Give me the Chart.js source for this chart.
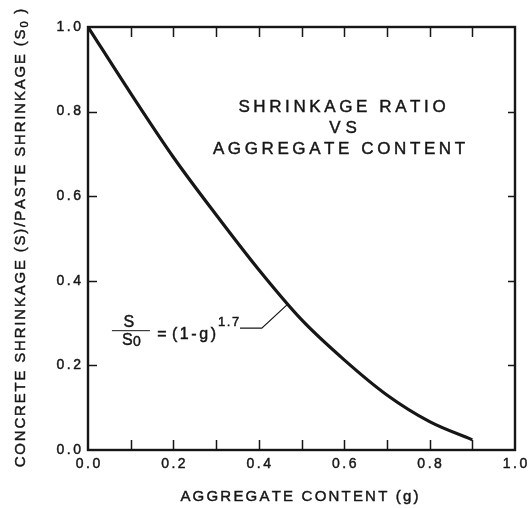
<!DOCTYPE html>
<html><head><meta charset="utf-8">
<script src="https://cdn.jsdelivr.net/npm/chart.js@4"></script>
<style>html,body{margin:0;padding:0;background:#fff}#wrap{width:528px;height:508px}</style>
</head><body><div id="wrap"><canvas id="c" width="528" height="508"></canvas></div>
<script>
// ---- data ----
const aggregateContent = [0.0, 0.1, 0.2, 0.3, 0.4, 0.5, 0.6, 0.7, 0.8, 0.9];
const shrinkageRatio   = [1.0, 0.843, 0.692, 0.556, 0.426, 0.308, 0.213, 0.13, 0.067, 0.024];
const xTickValues = [0.0, 0.2, 0.4, 0.6, 0.8, 1.0];
const xTickLabels = ['0.0', '0.2', '0.4', '0.6', '0.8', '1.0'];
const yTickValues = [0.0, 0.2, 0.4, 0.6, 0.8, 1.0];
const yTickLabels = ['0.0', '0.2', '0.4', '0.6', '0.8', '1.0'];
const xMinorTicks = [0.1, 0.2, 0.3, 0.4, 0.5, 0.6, 0.7, 0.8, 0.9];
const yMinorTicks = [0.2, 0.4, 0.6, 0.8];
const titleLines = ['SHRINKAGE RATIO', 'VS', 'AGGREGATE CONTENT'];
const xAxisTitle = 'AGGREGATE CONTENT (g)';
const yAxisTitle = [['CONCRETE SHRINKAGE (S)/PASTE SHRINKAGE (S', 0], ['0', 1], [' )', 0]];
const formulaNum = 'S', formulaDen = 'S', formulaDenSub = '0', formulaEq = '=', formulaRhs = '(1-g)', formulaExp = '1.7';
const leaderPoint = [0.466, 0.343];   // where the leader line meets the curve (data space)
const leaderElbow = [0.407, 0.288];
const leaderStart = [0.356, 0.288];
const formulaAnchor = [0.056, 0.288]; // left end of fraction bar (data space)

const FONT = '"Liberation Sans", Arial, Helvetica, sans-serif';
const INK = '#161616';

function spaced(ctx, str, x, y, align, sp) {
  const chars = [...str];
  const w = chars.map(c => ctx.measureText(c).width);
  const total = w.reduce((a, b) => a + b, 0) + sp * (chars.length - 1);
  let sx = align === 'center' ? x - total / 2 : align === 'right' ? x - total : x;
  ctx.textAlign = 'left';
  ctx.lineWidth = 0.45;
  chars.forEach((c, i) => { ctx.fillText(c, sx, y); ctx.strokeText(c, sx, y); sx += w[i] + sp; });
  return total;
}

const decor = {
  id: 'decor',
  afterDraw(chart) {
    const ctx = chart.ctx, a = chart.chartArea;
    const xs = chart.scales.x, ys = chart.scales.y;
    ctx.save();
    ctx.strokeStyle = INK; ctx.fillStyle = INK;
    // frame
    ctx.lineWidth = 2.4;
    ctx.strokeRect(a.left, a.top, a.right - a.left, a.bottom - a.top);
    // inward ticks
    ctx.lineWidth = 1.5;
    ctx.beginPath();
    xMinorTicks.forEach(v => {
      const px = Math.round(xs.getPixelForValue(v)) + 0.5;
      ctx.moveTo(px, a.bottom); ctx.lineTo(px, a.bottom - 10);
      ctx.moveTo(px, a.top); ctx.lineTo(px, a.top + 10);
    });
    yMinorTicks.forEach(v => {
      const py = Math.round(ys.getPixelForValue(v)) + 0.5;
      ctx.moveTo(a.left, py); ctx.lineTo(a.left + 9, py);
      ctx.moveTo(a.right, py); ctx.lineTo(a.right - 7, py);
    });
    ctx.stroke();
    // tick labels
    ctx.font = '14px ' + FONT; ctx.textBaseline = 'middle';
    yTickValues.forEach((v, i) => spaced(ctx, yTickLabels[i], a.left - 7, ys.getPixelForValue(v), 'right', 2.5));
    xTickValues.forEach((v, i) => spaced(ctx, xTickLabels[i], xs.getPixelForValue(v), a.bottom + 14, 'center', 2.5));
    // x title
    ctx.font = '15px ' + FONT;
    spaced(ctx, xAxisTitle, (a.left + a.right) / 2 - 2, a.bottom + 47, 'center', 2.2);
    // y title (rotated, with subscript)
    ctx.save();
    ctx.translate(21, 238); ctx.rotate(-Math.PI / 2);
    const sp = 1.8;
    let widths = yAxisTitle.map(([t, sub]) => {
      ctx.font = (sub ? '11px ' : '15px ') + FONT;
      return [...t].reduce((s, c) => s + ctx.measureText(c).width + sp, 0);
    });
    let tot = widths.reduce((p, q) => p + q, 0) - sp;
    let sx = -tot / 2;
    yAxisTitle.forEach(([t, sub], i) => {
      ctx.font = (sub ? '11px ' : '15px ') + FONT;
      spaced(ctx, t, sx, sub ? 4 : 0, 'left', sp);
      sx += widths[i];
    });
    ctx.restore();
    // chart title
    ctx.font = '17px ' + FONT;
    spaced(ctx, titleLines[0], 342, 107, 'center', 3.6);
    spaced(ctx, titleLines[1], 343, 128, 'center', 5);
    spaced(ctx, titleLines[2], 339, 149, 'center', 3.6);
    // formula annotation
    const fx = xs.getPixelForValue(formulaAnchor[0]), fy = ys.getPixelForValue(formulaAnchor[1]);
    ctx.lineWidth = 1;
    ctx.beginPath(); ctx.moveTo(fx, fy + 2.5); ctx.lineTo(fx + 38, fy + 2.5); ctx.stroke();
    ctx.font = '16px ' + FONT;
    spaced(ctx, formulaNum, fx + 17, fy - 6, 'center', 0);
    let w = spaced(ctx, formulaDen, fx + 10, fy + 12, 'left', 0);
    ctx.font = '14px ' + FONT;
    spaced(ctx, formulaDenSub, fx + 10 + w + 0.5, fy + 13.5, 'left', 0);
    ctx.font = '16px ' + FONT;
    spaced(ctx, formulaEq, fx + 50, fy + 6, 'center', 0);
    let rw = spaced(ctx, formulaRhs, fx + 60, fy + 6, 'left', 2.6);
    ctx.font = '13px ' + FONT;
    spaced(ctx, formulaExp, fx + 60 + rw + 2, fy - 6, 'left', 1.5);
    // leader
    ctx.lineWidth = 1.2;
    ctx.beginPath();
    ctx.moveTo(xs.getPixelForValue(leaderStart[0]), ys.getPixelForValue(leaderStart[1]));
    ctx.lineTo(xs.getPixelForValue(leaderElbow[0]), ys.getPixelForValue(leaderElbow[1]));
    ctx.lineTo(xs.getPixelForValue(leaderPoint[0]), ys.getPixelForValue(leaderPoint[1]));
    ctx.stroke();
    ctx.restore();
  }
};

new Chart(document.getElementById('c'), {
  type: 'line',
  data: {
    datasets: [{
      data: aggregateContent.map((g, i) => ({ x: g, y: shrinkageRatio[i] })),
      borderColor: INK, borderWidth: 3.2, pointRadius: 0, fill: false,
      cubicInterpolationMode: 'monotone'
    }]
  },
  options: {
    responsive: false, animation: false, devicePixelRatio: 1,
    layout: { padding: { left: 0, top: 27, right: 13, bottom: 0 } },
    plugins: { legend: { display: false }, tooltip: { enabled: false } },
    scales: {
      x: { type: 'linear', min: 0, max: 1,
           ticks: { display: false }, grid: { display: false }, border: { display: false },
           afterFit: s => { s.height = 58; } },
      y: { type: 'linear', min: 0, max: 1,
           ticks: { display: false }, grid: { display: false }, border: { display: false },
           afterFit: s => { s.width = 88; } }
    }
  },
  plugins: [decor]
});
</script>
</body></html>
